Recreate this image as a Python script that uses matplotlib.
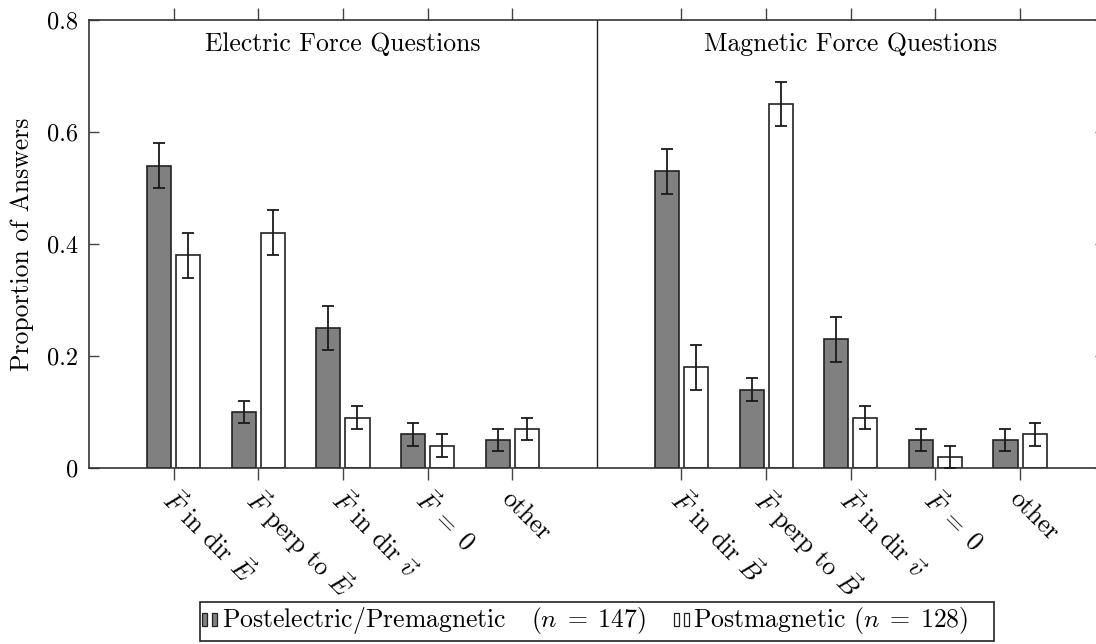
import matplotlib
matplotlib.use("Agg")
import matplotlib.pyplot as plt
from matplotlib.patches import Rectangle
import numpy as np

plt.rcParams['font.family'] = 'serif'
plt.rcParams['font.serif'] = ['cmr10']
plt.rcParams['mathtext.fontset'] = 'cm'
plt.rcParams['axes.formatter.use_mathtext'] = True

# ---- data ----
electric_labels = [r"$\vec{F}$ in dir $\vec{E}$",
                   r"$\vec{F}$ perp to $\vec{E}$",
                   r"$\vec{F}$ in dir $\vec{v}$",
                   r"$\vec{F}\;=\;0$",
                   "other"]
magnetic_labels = [r"$\vec{F}$ in dir $\vec{B}$",
                   r"$\vec{F}$ perp to $\vec{B}$",
                   r"$\vec{F}$ in dir $\vec{v}$",
                   r"$\vec{F}\;=\;0$",
                   "other"]
electric_pre = [0.54, 0.10, 0.25, 0.06, 0.05]
electric_pre_err = [0.04, 0.02, 0.04, 0.02, 0.02]
electric_post = [0.38, 0.42, 0.09, 0.04, 0.07]
electric_post_err = [0.04, 0.04, 0.02, 0.02, 0.02]
magnetic_pre = [0.53, 0.14, 0.23, 0.05, 0.05]
magnetic_pre_err = [0.04, 0.02, 0.04, 0.02, 0.02]
magnetic_post = [0.18, 0.65, 0.09, 0.02, 0.06]
magnetic_post_err = [0.04, 0.04, 0.02, 0.02, 0.02]
group_titles = ["Electric Force Questions", "Magnetic Force Questions"]
series_names = [r"Postelectric/Premagnetic   $(n\;=\;147)$", r"Postmagnetic $(n\;=\;128)$"]
yticks = [0, 0.2, 0.4, 0.6, 0.8]
ytick_labels = ["0", "0.2", "0.4", "0.6", "0.8"]

FS = 18.5
W, H = 1096, 644
fig = plt.figure(figsize=(W / 100, H / 100), dpi=100)
ax_left, ax_right, ax_top, ax_bot = 89, 1104.7, 20, 468
ax = fig.add_axes([ax_left / W, 1 - ax_bot / H, (ax_right - ax_left) / W, (ax_bot - ax_top) / H])

x_e = np.arange(1, 6)
x_m = np.arange(7, 12)
xs = np.concatenate([x_e, x_m])
pre = electric_pre + magnetic_pre
pre_err = electric_pre_err + magnetic_pre_err
post = electric_post + magnetic_post
post_err = electric_post_err + magnetic_post_err

bw = 0.285
off = 0.172
dark = '#808080'
ax.bar(xs - off, pre, bw, color=dark, edgecolor='#222222', linewidth=1.2, zorder=2)
ax.bar(xs + off, post, bw, color='white', edgecolor='#222222', linewidth=1.2, zorder=2)
ax.errorbar(xs - off, pre, yerr=pre_err, fmt='none', ecolor='#1a1a1a', elinewidth=1.3,
            capsize=4, capthick=1.3, zorder=3)
ax.errorbar(xs + off, post, yerr=post_err, fmt='none', ecolor='#1a1a1a', elinewidth=1.3,
            capsize=4, capthick=1.3, zorder=3)

ax.axvline(6, color='#222222', linewidth=1.0, zorder=1)

ax.set_xlim(0, 12)
ax.set_ylim(0, 0.8)
ax.set_xticks(xs)
ax.set_xticklabels([])
ax.tick_params(axis='x', direction='out', length=8.5, width=1.0, color='#444444',
               top=True, bottom=True, labelbottom=False)
ax.set_yticks(yticks)
ax.set_yticklabels(ytick_labels)
ax.tick_params(axis='y', direction='in', length=7, width=1.0, color='#444444',
               left=True, right=True, labelsize=17.5, pad=8)
for s in ax.spines.values():
    s.set_linewidth(1.2)
    s.set_color('#333333')

ax.set_ylabel("Proportion of Answers", fontsize=FS, labelpad=9)

# rotated category labels
xtrans = ax.get_xaxis_transform()
for x, lab in zip(xs, electric_labels + magnetic_labels):
    ax.text(x - 0.08, -0.06, lab, transform=xtrans, rotation=-45, rotation_mode='anchor',
            ha='left', va='center', fontsize=FS, clip_on=False)

ax.text(x_e.mean(), 0.757, group_titles[0], ha='center', va='center', fontsize=FS)
ax.text(x_m.mean(), 0.757, group_titles[1], ha='center', va='center', fontsize=FS)

# legend drawn in figure pixel coords
def fx(px):
    return px / W

def fy(py):
    return 1 - py / H

fig.patches.append(Rectangle((fx(200), fy(641)), fx(994) - fx(200), fy(602) - fy(641),
                             transform=fig.transFigure, facecolor='white',
                             edgecolor='#222222', linewidth=1.2))
for x0, fc in [(202, dark), (212, dark), (674, 'white'), (684, 'white')]:
    fig.patches.append(Rectangle((fx(x0), fy(626)), fx(5), 13 / H, transform=fig.transFigure,
                                 facecolor=fc, edgecolor='#222222', linewidth=0.9))
fig.text(fx(222), fy(620), series_names[0], ha='left', va='center', fontsize=FS)
fig.text(fx(693), fy(620), series_names[1], ha='left', va='center', fontsize=FS)

fig.savefig("out.png", dpi=100)
